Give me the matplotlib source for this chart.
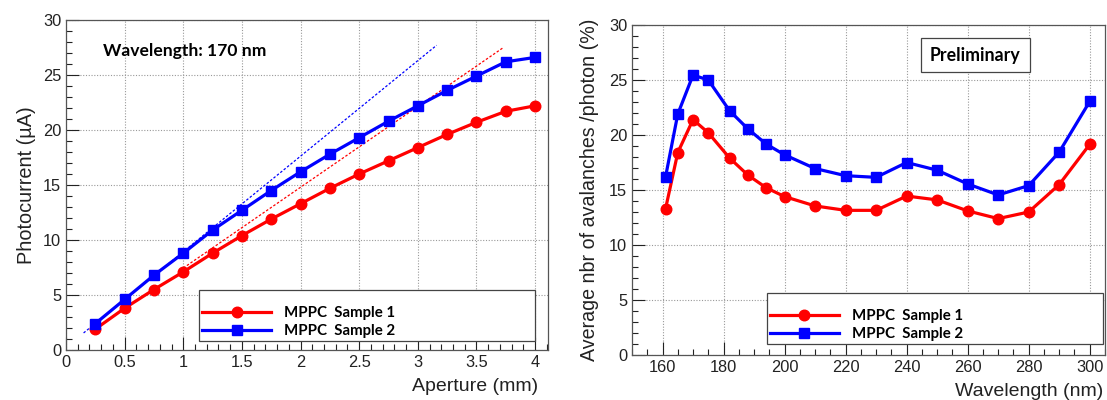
import matplotlib
matplotlib.use("Agg")
import matplotlib.pyplot as plt
from matplotlib.ticker import MultipleLocator

# ---- Left panel data ----
aperture = [0.25, 0.5, 0.75, 1.0, 1.25, 1.5, 1.75, 2.0, 2.25, 2.5, 2.75, 3.0, 3.25, 3.5, 3.75, 4.0]
photo_s1 = [1.9, 3.8, 5.5, 7.1, 8.8, 10.4, 11.9, 13.3, 14.7, 16.0, 17.2, 18.4, 19.6, 20.7, 21.7, 22.2]
photo_s2 = [2.4, 4.6, 6.8, 8.8, 10.9, 12.7, 14.5, 16.2, 17.8, 19.3, 20.8, 22.2, 23.6, 24.9, 26.2, 26.6]
fit_s1_x = [1.0, 3.73]
fit_s1_y = [7.45, 27.5]
fit_s2_x = [0.15, 3.16]
fit_s2_y = [1.55, 27.7]

# ---- Right panel data ----
wavelength = [161, 165, 170, 175, 182, 188, 194, 200, 210, 220, 230, 240, 250, 260, 270, 280, 290, 300]
aval_s1 = [13.3, 18.4, 21.4, 20.2, 17.9, 16.35, 15.2, 14.4, 13.55, 13.15, 13.15, 14.45, 14.1, 13.1, 12.4, 13.0, 15.5, 19.15]
aval_s2 = [16.2, 21.9, 25.45, 25.0, 22.2, 20.55, 19.17, 18.2, 16.95, 16.3, 16.15, 17.5, 16.8, 15.55, 14.55, 15.4, 18.45, 23.05]

labels = ["MPPC  Sample 1", "MPPC  Sample 2"]

plt.rcParams['font.family'] = ['Liberation Sans', 'DejaVu Sans']
BOLD = ['Lato', 'DejaVu Sans']
RED = '#ff0000'
BLUE = '#0000ff'
TXT = '#222222'

fig = plt.figure(figsize=(11.07, 4.0), dpi=100)
axL = fig.add_axes([66/1107, 1-350/400, (548-66)/1107, 330/400])
axR = fig.add_axes([632/1107, 1-355/400, (1105-632)/1107, 330/400])


def style(ax):
    ax.grid(True, which='major', linestyle=(0, (1, 1.5)), color='#999999', linewidth=0.8)
    ax.set_axisbelow(True)
    ax.tick_params(which='both', direction='in', top=False, right=False, labelsize=11.8,
                   colors=TXT, pad=3.5)
    ax.tick_params(which='major', length=9.5, width=0.8)
    ax.tick_params(which='minor', length=4.5, width=0.8)
    for s in ax.spines.values():
        s.set_color('#555555')
        s.set_linewidth(0.9)


def legend(ax, box):
    leg = ax.legend(loc='lower left', bbox_to_anchor=box, mode='expand', frameon=True,
                    fancybox=False, prop={'family': BOLD, 'weight': 'bold', 'size': 10.8},
                    handlelength=4.6, borderpad=0.2, labelspacing=0.25, handletextpad=0.85,
                    borderaxespad=0, title=' ', title_fontsize=7.5)
    leg.get_frame().set_edgecolor('#444444')
    leg.get_frame().set_linewidth(0.9)
    leg.get_frame().set_alpha(1)
    return leg


# Left
axL.plot(fit_s2_x, fit_s2_y, linestyle=(0, (2, 1.5)), color=BLUE, linewidth=0.9, zorder=2)
axL.plot(fit_s1_x, fit_s1_y, linestyle=(0, (2, 1.5)), color=RED, linewidth=0.9, zorder=2)
axL.plot(aperture, photo_s1, '-o', color=RED, linewidth=2.3, markersize=7.6, label=labels[0], zorder=3)
axL.plot(aperture, photo_s2, '-s', color=BLUE, linewidth=2.3, markersize=7.6, label=labels[1], zorder=4)
axL.set_xlim(0, 4.11)
axL.set_ylim(0, 30)
axL.xaxis.set_minor_locator(MultipleLocator(0.1))
axL.yaxis.set_major_locator(MultipleLocator(5))
axL.yaxis.set_minor_locator(MultipleLocator(1))
axL.set_xticks([0, 0.5, 1, 1.5, 2, 2.5, 3, 3.5, 4])
axL.set_xticklabels(['0', '0.5', '1', '1.5', '2', '2.5', '3', '3.5', '4'])
style(axL)
axL.set_xlabel('Aperture (mm)', fontsize=14, color=TXT, ha='right')
axL.xaxis.set_label_coords(0.979, -0.085)
axL.set_ylabel('Photocurrent (\u00b5A)', fontsize=14.3, color=TXT, labelpad=5)
axL.text(0.077, 0.906, 'Wavelength: 170 nm', transform=axL.transAxes, fontsize=12.6,
         fontweight='bold', family=BOLD, va='center')
legend(axL, (0.276, 0.027, 0.697, 0.158))

# Right
axR.plot(wavelength, aval_s1, '-o', color=RED, linewidth=2.3, markersize=7.6, label=labels[0], zorder=3)
axR.plot(wavelength, aval_s2, '-s', color=BLUE, linewidth=2.3, markersize=7.6, label=labels[1], zorder=4)
axR.set_xlim(150, 305)
axR.set_ylim(0, 30)
axR.xaxis.set_minor_locator(MultipleLocator(5))
axR.yaxis.set_major_locator(MultipleLocator(5))
axR.yaxis.set_minor_locator(MultipleLocator(1))
axR.set_xticks([160, 180, 200, 220, 240, 260, 280, 300])
style(axR)
axR.set_xlabel('Wavelength (nm)', fontsize=14, color=TXT, ha='right')
axR.xaxis.set_label_coords(0.996, -0.085)
axR.set_ylabel('Average nbr of avalanches /photon (%)', fontsize=14.1, color=TXT, labelpad=7)
axR.text(0.726, 0.909, 'Preliminary', transform=axR.transAxes, fontsize=12.8, fontweight='bold',
         family=BOLD, va='center', ha='center',
         bbox=dict(boxstyle='square,pad=0.5', facecolor='white', edgecolor='#444444', linewidth=0.9))
legend(axR, (0.285, 0.033, 0.711, 0.155))

fig.savefig('out.png', dpi=100)
